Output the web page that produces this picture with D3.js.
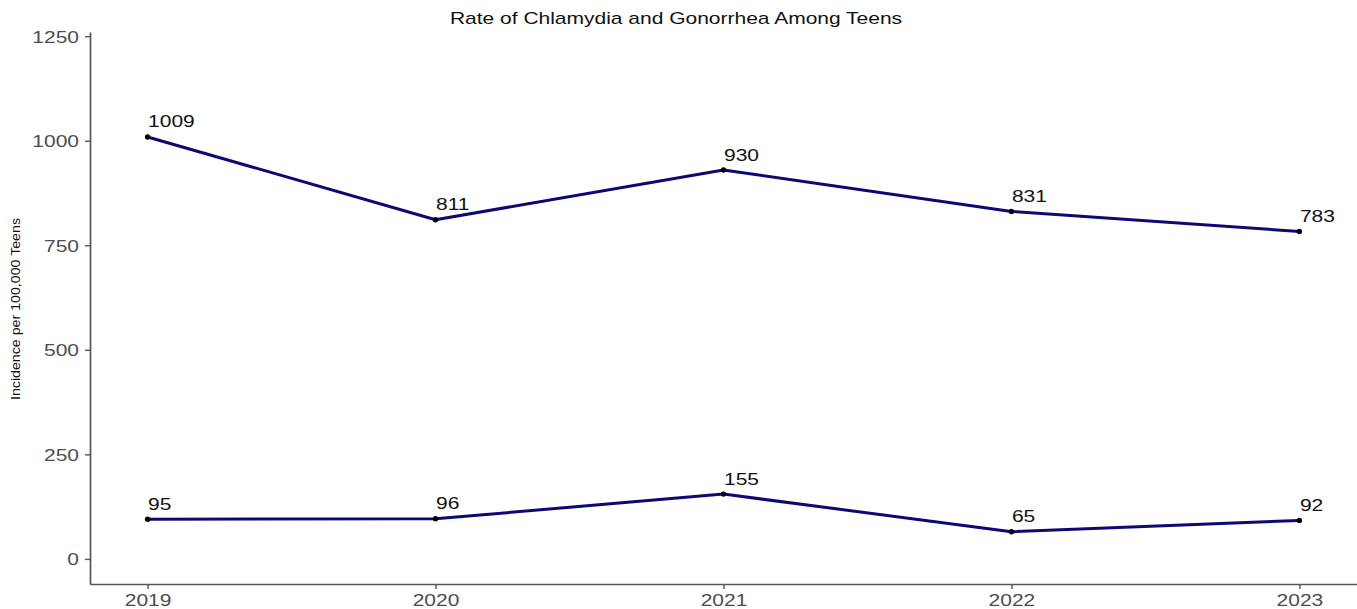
<!DOCTYPE html>
<html>
<head>
<meta charset="utf-8">
<script src="https://cdn.jsdelivr.net/npm/d3@7"></script>
<style>
  html, body { margin: 0; padding: 0; background: #fff; }
  svg { display: block; }
  text { font-family: "Liberation Sans", Arial, sans-serif; }
</style>
</head>
<body>
<svg id="chart" width="1357" height="609"></svg>
<script>
const years = [2019, 2020, 2021, 2022, 2023];
const chlamydia = [1009, 811, 930, 831, 783];
const gonorrhea = [95, 96, 155, 65, 92];
const yTicks = [0, 250, 500, 750, 1000, 1250];
const titleText = "Rate of Chlamydia and Gonorrhea Among Teens";
const yTitle = "Incidence per 100,000 Teens";

(function () {
const mLeft = 90, mRight = 1357, mTop = 32, mBottom = 584;
const SX = 1.25; // horizontal text stretch seen in reference
const FS = 16.8;
const axisColor = "#555";

const svg = d3.select("#chart");

const x = d3.scaleLinear().domain([2018.8, 2023.2]).range([mLeft, mRight]);
const y = d3.scaleLinear().domain([-60, 1260]).range([mBottom, mTop]);

// y axis
const gy = svg.append("g").attr("transform", `translate(${mLeft},0)`)
  .call(d3.axisLeft(y).tickValues(yTicks).tickSize(5).tickSizeOuter(0).tickPadding(5).tickFormat(d3.format("d")));
// x axis
const gx = svg.append("g").attr("transform", `translate(0,${mBottom})`)
  .call(d3.axisBottom(x).tickValues(years).tickSize(5).tickSizeOuter(0).tickPadding(4).tickFormat(d3.format("d")));

[gy, gx].forEach(g => {
  g.select(".domain").attr("stroke", axisColor).attr("stroke-width", 1.7);
  g.selectAll(".tick line").attr("stroke", axisColor).attr("stroke-width", 1.4);
  g.selectAll(".tick text").attr("fill", "#4d4d4d").attr("font-size", FS)
    .attr("font-family", "Liberation Sans, Arial, sans-serif");
});
// stretch tick labels horizontally
gy.selectAll(".tick text").each(function () {
  const t = d3.select(this);
  const xx = +t.attr("x");
  t.attr("x", null).attr("dy", null).attr("transform", `translate(${xx - 1},6) scale(${SX},1)`);
});
gx.selectAll(".tick text").each(function () {
  const t = d3.select(this);
  const yy = +t.attr("y");
  t.attr("y", null).attr("dy", null).attr("transform", `translate(0,${yy + 13}) scale(${SX},1)`);
});

// title
svg.append("text")
  .attr("transform", `translate(676,24) scale(${SX},1)`)
  .attr("text-anchor", "middle").attr("font-size", FS).attr("fill", "#111")
  .text(titleText);

// y axis title
svg.append("text")
  .attr("transform", `translate(20,309) rotate(-90)`)
  .attr("text-anchor", "middle").attr("font-size", 12.5).attr("fill", "#111")
  .attr("textLength", 182).attr("lengthAdjust", "spacingAndGlyphs")
  .text(yTitle);

// series
const line = d3.line().x((d, i) => x(years[i])).y(d => y(d));
[chlamydia, gonorrhea].forEach(series => {
  svg.append("path").datum(series).attr("d", line)
    .attr("fill", "none").attr("stroke", "#0a0a72").attr("stroke-width", 3)
    .attr("stroke-linejoin", "round");
  series.forEach((v, i) => {
    svg.append("circle").attr("cx", x(years[i])).attr("cy", y(v)).attr("r", 2.7).attr("fill", "#000");
    svg.append("text")
      .attr("transform", `translate(${x(years[i]) + 0.5},${y(v) - 9.5}) scale(${SX},1)`)
      .attr("text-anchor", "start").attr("font-size", FS).attr("fill", "#111")
      .text(v);
  });
});
})();
</script>
</body>
</html>
